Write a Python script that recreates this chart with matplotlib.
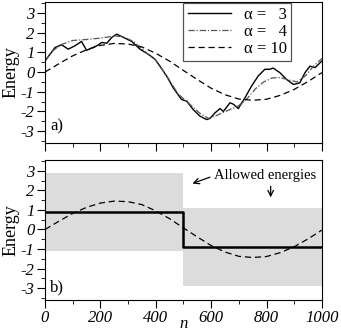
import matplotlib
matplotlib.use("Agg")
import matplotlib.pyplot as plt
import numpy as np

plt.rcParams["font.family"] = ["Liberation Serif", "DejaVu Serif"]

# alpha = 3 (noisy solid curve)
n_a3 = [0, 18, 36, 60, 84, 108, 132, 150, 187, 205, 223, 241, 259, 277, 313,
        343, 373, 397, 415, 439, 463, 493, 512, 535, 560, 584, 596, 614, 632,
        644, 668, 680, 698, 722, 746, 770, 794, 812, 824, 848, 872, 897, 920,
        939, 957, 975, 1000]
e_a3 = [0.56, 0.9, 1.24, 1.38, 1.16, 1.33, 1.55, 1.1, 1.33, 1.5, 1.46, 1.75,
        1.92, 1.8, 1.55, 1.16, 0.9, 0.65, 0.3, -0.2, -0.8, -1.39, -1.48, -1.9,
        -2.24, -2.41, -2.35, -2.07, -1.85, -2.0, -1.56, -1.63, -1.85, -1.31,
        -0.71, -0.2, 0.14, 0.14, 0.2, -0.03, -0.37, -0.63, -0.55, -0.03, 0.3,
        0.22, 0.56]

# alpha = 4 (dash-dot curve)
n_a4 = [0, 30, 60, 100, 150, 200, 250, 280, 320, 360, 400, 440, 480, 520, 560,
        590, 620, 660, 700, 730, 760, 790, 820, 850, 880, 910, 940, 970, 1000]
e_a4 = [0.56, 1.1, 1.4, 1.6, 1.65, 1.72, 1.82, 1.8, 1.55, 1.05, 0.6, -0.2,
        -1.1, -1.6, -2.1, -2.35, -2.2, -1.95, -1.7, -1.35, -0.85, -0.5, -0.3,
        -0.28, -0.4, -0.5, -0.2, 0.3, 0.69]

# alpha = 10 (dashed, smooth curve)
n_a10 = [0, 50, 100, 150, 200, 250, 300, 350, 400, 450, 500, 550, 600, 650,
         700, 750, 800, 850, 900, 950, 1000]
e_a10 = [0.0, 0.42, 0.82, 1.13, 1.35, 1.45, 1.42, 1.27, 0.95, 0.55, 0.08,
         -0.38, -0.82, -1.15, -1.37, -1.43, -1.38, -1.18, -0.88, -0.48, -0.03]

# panel b: step level and allowed energy bands
n_step = [0, 500, 500, 1000]
e_step = [0.9, 0.9, -0.9, -0.9]
band_n = [(0, 500), (500, 1000)]
band_lo = [-1.1, -2.9]
band_hi = [2.9, 1.1]

legend_labels = ["\u03b1 =   3", "\u03b1 =   4", "\u03b1 = 10"]
x_ticks = [0, 200, 400, 600, 800, 1000]
y_ticks = [-3, -2, -1, 0, 1, 2, 3]

fig = plt.figure(figsize=(3.41, 3.35), dpi=100)
ax1 = fig.add_axes([0.132, 0.573, 0.812, 0.421])
ax2 = fig.add_axes([0.132, 0.1045, 0.812, 0.418])


def style(ax, labels=True):
    ax.set_xlim(0, 1000)
    ax.set_ylim(-3.6, 3.55)
    ax.set_xticks(x_ticks)
    ax.set_xticks(range(100, 1000, 200), minor=True)
    ax.set_yticks(y_ticks)
    ax.set_yticks(np.arange(-3.5, 3.6, 1.0), minor=True)
    ax.tick_params(which="major", direction="out", length=6, width=0.8,
                   top=False, right=False, labelsize=12, pad=1.5)
    ax.tick_params(which="minor", direction="out", length=3, width=0.6,
                   top=False, right=False)
    ax.set_yticklabels([str(v) for v in y_ticks], fontstyle="italic")
    if labels:
        ax.set_xticklabels([str(v) for v in x_ticks], fontstyle="italic")
    else:
        ax.set_xticklabels([])
    ax.set_ylabel("Energy", fontsize=13, labelpad=1)
    for s in ax.spines.values():
        s.set_linewidth(0.8)


style(ax1, labels=False)
l1, = ax1.plot(n_a3, e_a3, color="black", lw=1.0)
l2, = ax1.plot(n_a4, e_a4, color="#555555", lw=0.9, dashes=(5, 1.5, 1, 1.5))
l3, = ax1.plot(n_a10, e_a10, color="black", lw=0.9, dashes=(5, 3))
leg = ax1.legend([l1, l2, l3], legend_labels, loc="upper right",
                 bbox_to_anchor=(0.89, 0.995), fontsize=12, fancybox=False,
                 framealpha=1, edgecolor="#555555", handlelength=2.6,
                 labelspacing=0.05, borderpad=0.25, handletextpad=0.8,
                 borderaxespad=0)
leg.get_frame().set_linewidth(0.9)
ax1.text(18, -2.75, "a)", fontsize=12, va="center")

style(ax2, labels=True)
for (a, b), lo, hi in zip(band_n, band_lo, band_hi):
    ax2.fill_between([a, b], lo, hi, color="#dcdcdc", lw=0, zorder=0)
ax2.plot(n_step, e_step, color="black", lw=1.8, zorder=3)
ax2.plot(n_a10, e_a10, color="black", lw=0.9, dashes=(5, 3), zorder=2)
ax2.text(18, -2.95, "b)", fontsize=12, va="center")
ax2.text(612, 2.75, "Allowed energies", fontsize=10.5, va="center", ha="left")
ax2.annotate("", xy=(523, 2.3), xytext=(605, 2.72),
             arrowprops=dict(arrowstyle="->", lw=0.9, color="black"))
ax2.annotate("", xy=(815, 1.5), xytext=(815, 2.35),
             arrowprops=dict(arrowstyle="->", lw=0.9, color="black"))
ax2.set_xlabel("n", fontsize=12, fontstyle="italic")
ax2.xaxis.set_label_coords(0.5, -0.115)

fig.savefig("out.png", dpi=100)
